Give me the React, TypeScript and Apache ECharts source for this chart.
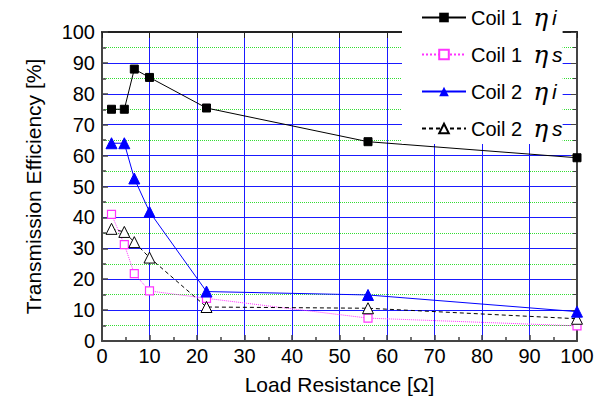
import React, { useEffect, useRef } from "react";
import * as echarts from "echarts";

const loads = [2, 4.7, 6.8, 10, 22, 56, 100];
const coil1Eta_i = [75, 75, 88, 85.3, 75.4, 64.5, 59.3];
const coil1Eta_s = [41, 31.2, 21.8, 16.2, 13.8, 7.4, 4.9];
const coil2Eta_i = [64, 64, 52.6, 41.8, 16, 14.9, 9.5];
const coil2Eta_s = [36.3, 35.3, 32, 27, 11, 10.6, 7.2];
const seriesNames = ["Coil 1 ηi", "Coil 1 ηs", "Coil 2 ηi", "Coil 2 ηs"];

const pairs = (ys: number[]) => loads.map((x, i) => [x, ys[i]]);

export default function App() {
  const ref = useRef<HTMLDivElement>(null);
  useEffect(() => {
    if (!ref.current) return;
    const chart = echarts.init(ref.current, undefined, { renderer: "svg" });
    const font = "'Liberation Sans', Arial, sans-serif";
    const axisCommon = {
      type: "value" as const,
      min: 0,
      max: 100,
      interval: 10,
    };
    chart.setOption({
      animation: false,
      backgroundColor: "#ffffff",
      textStyle: { fontFamily: font },
      grid: { left: 102, right: 28, top: 32, bottom: 59, containLabel: false },
      legend: {
        orient: "vertical",
        left: 402,
        top: 0,
        padding: [5, 0, 3, 19],
        itemWidth: 44,
        itemHeight: 12,
        itemGap: 12,
        backgroundColor: "#ffffff",
        z: 10,
        data: seriesNames,
        formatter: (name: string) => {
          const coil = name.slice(0, 6);
          const sub = name.slice(-1);
          return `{c|${coil}}{eta|η}{sub|${sub}}`;
        },
        textStyle: {
          fontFamily: font,
          fontSize: 20,
          color: "#000",
          lineHeight: 21,
          rich: {
            c: { fontFamily: font, fontSize: 20, color: "#000", lineHeight: 21 },
            eta: { fontFamily: "'DejaVu Serif', serif", fontStyle: "italic", fontSize: 25, color: "#000", lineHeight: 21, padding: [0, 4, 0, 11] },
            sub: { fontFamily: font, fontStyle: "italic", fontSize: 21, color: "#000", lineHeight: 21 },
          },
        },
      },
      xAxis: [
        {
          ...axisCommon,
          position: "bottom",
          name: "Load Resistance [Ω]",
          nameLocation: "middle",
          nameGap: 33,
          nameTextStyle: { fontSize: 21, color: "#000", fontFamily: font },
          axisLine: { show: true, onZero: false, lineStyle: { color: "#444", width: 2 } },
          axisTick: { show: true, inside: true, length: 6, lineStyle: { color: "#444", width: 1.5 } },
          minorTick: { show: true, splitNumber: 2, length: 4, lineStyle: { color: "#444", width: 1.5 } },
          axisLabel: { fontSize: 20, color: "#000", margin: 5, fontFamily: font },
          splitLine: { show: true, lineStyle: { color: "#1a1aff", width: 1 } },
        },
        {
          ...axisCommon,
          position: "top",
          axisLine: { show: true, onZero: false, lineStyle: { color: "#222", width: 2 } },
          axisTick: { show: true, inside: true, length: 6, lineStyle: { color: "#222" } },
          axisLabel: { show: false },
          splitLine: { show: false },
        },
      ],
      yAxis: [
        {
          ...axisCommon,
          position: "left",
          name: "Transmission Efficiency [%]",
          nameLocation: "middle",
          nameGap: 58,
          nameTextStyle: { fontSize: 21, color: "#000", fontFamily: font },
          axisLine: { show: true, onZero: false, lineStyle: { color: "#444", width: 2 } },
          axisTick: { show: true, inside: true, length: 6, lineStyle: { color: "#444", width: 1.5 } },
          minorTick: { show: true, splitNumber: 2, length: 4, lineStyle: { color: "#444", width: 1.5 } },
          axisLabel: { fontSize: 20, color: "#000", margin: 7, fontFamily: font },
          splitLine: { show: true, lineStyle: { color: "#1a1aff", width: 1 } },
          minorSplitLine: { show: true, lineStyle: { color: "#33dd33", width: 1, type: "dotted" } },
        },
        {
          ...axisCommon,
          position: "right",
          axisLine: { show: true, onZero: false, lineStyle: { color: "#444", width: 2 } },
          axisTick: { show: true, inside: true, length: 6, lineStyle: { color: "#444" } },
          minorTick: { show: true, splitNumber: 2, length: 4, lineStyle: { color: "#444" } },
          axisLabel: { show: false },
          splitLine: { show: false },
        },
      ],
      series: [
        {
          name: seriesNames[0],
          type: "line",
          data: pairs(coil1Eta_i),
          symbol: "rect",
          symbolSize: 8,
          itemStyle: { color: "#000", borderColor: "#000" },
          lineStyle: { color: "#000", width: 1 },
          z: 5,
        },
        {
          name: seriesNames[1],
          type: "line",
          data: pairs(coil1Eta_s),
          symbol: "rect",
          symbolSize: 8,
          itemStyle: { color: "#fff", borderColor: "#ff33ff", borderWidth: 1.2 },
          lineStyle: { color: "#ff33ff", width: 1, type: "dotted" },
          z: 4,
        },
        {
          name: seriesNames[2],
          type: "line",
          data: pairs(coil2Eta_i),
          symbol: "triangle",
          symbolSize: 11,
          itemStyle: { color: "#0000ff", borderColor: "#0000ff" },
          lineStyle: { color: "#0000ff", width: 1 },
          z: 5,
        },
        {
          name: seriesNames[3],
          type: "line",
          data: pairs(coil2Eta_s),
          symbol: "triangle",
          symbolSize: 11,
          itemStyle: { color: "#fff", borderColor: "#000", borderWidth: 1 },
          lineStyle: { color: "#000", width: 1, type: [4, 3] },
          z: 4,
        },
      ],
    });
    return () => chart.dispose();
  }, []);
  return <div ref={ref} style={{ width: 605, height: 400, position: "absolute", left: 0, top: 0 }} />;
}
